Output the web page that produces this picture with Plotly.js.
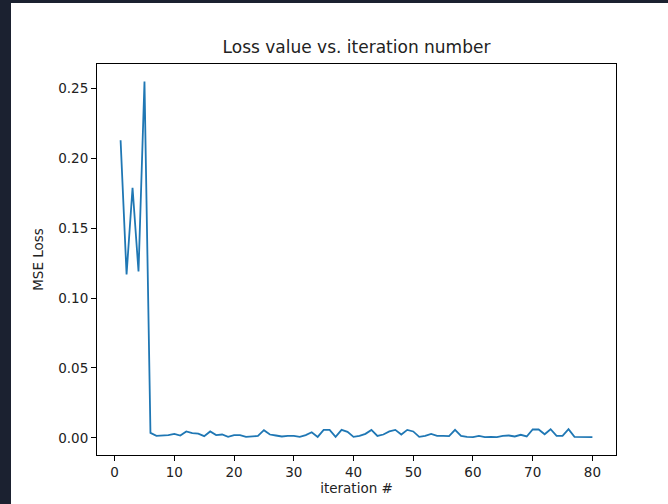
<!DOCTYPE html>
<html>
<head>
<meta charset="utf-8">
<script src="https://cdn.plot.ly/plotly-3.0.1.min.js"></script>
<style>
html,body{margin:0;padding:0;background:#1b2130;width:668px;height:504px;overflow:hidden;}
#chart{position:absolute;left:11px;top:3px;width:657px;height:501px;background:#fff;}
</style>
</head>
<body>
<div id="chart"></div>
<script>
const iterations = Array.from({length: 80}, (_, i) => i + 1);
const mseLoss = [
  0.213, 0.117, 0.179, 0.119, 0.255, 0.0036, 0.0014, 0.0017, 0.0020, 0.0029,
  0.0017, 0.0046, 0.0034, 0.0030, 0.0012, 0.0046, 0.0020, 0.0024, 0.0007, 0.0020,
  0.0020, 0.0007, 0.0010, 0.0014, 0.0055, 0.0024, 0.0017, 0.0010, 0.0014, 0.0014,
  0.0007, 0.0020, 0.0040, 0.0007, 0.0057, 0.0057, 0.0007, 0.0057, 0.0043, 0.0007,
  0.0014, 0.0029, 0.0057, 0.0014, 0.0024, 0.0046, 0.0057, 0.0024, 0.0057, 0.0046,
  0.0007, 0.0014, 0.0029, 0.0014, 0.0014, 0.0012, 0.0057, 0.0014, 0.0007, 0.0005,
  0.0014, 0.0005, 0.0007, 0.0005, 0.0014, 0.0017, 0.0010, 0.0022, 0.0010, 0.0060,
  0.0060, 0.0026, 0.0062, 0.0014, 0.0014, 0.0062, 0.0007, 0.0007, 0.0007, 0.0005
];
const chartTitle = 'Loss value vs. iteration number';
const xLabel = 'iteration #';
const yLabel = 'MSE Loss';

const font = 'DejaVu Sans, sans-serif';
const trace = {
  x: iterations, y: mseLoss, type: 'scatter', mode: 'lines',
  line: {color: '#1f77b4', width: 1.8}
};
const axisCommon = {
  showgrid: false, zeroline: false, showline: true, mirror: true,
  linecolor: '#000', linewidth: 1, ticks: 'outside', ticklen: 5,
  tickcolor: '#000', tickwidth: 1,
  tickfont: {family: font, size: 13.5, color: '#222'}
};
const layout = {
  width: 657, height: 501,
  margin: {l: 86, r: 52, t: 61, b: 49},
  paper_bgcolor: '#fff', plot_bgcolor: '#fff',
  showlegend: false,
  title: {text: chartTitle, font: {family: font, size: 17, color: '#222'},
          x: 0.5, xref: 'paper', y: 1 - 44/501, yref: 'container', yanchor: 'middle'},
  xaxis: Object.assign({}, axisCommon, {
    range: [-2.95, 83.95], tick0: 0, dtick: 10,
    title: {text: xLabel, font: {family: font, size: 13.5, color: '#222'}, standoff: 4}
  }),
  yaxis: Object.assign({}, axisCommon, {
    range: [-0.01225, 0.2675], tick0: 0, dtick: 0.05, tickformat: '.2f',
    title: {text: yLabel, font: {family: font, size: 13.5, color: '#222'}, standoff: 11}
  })
};
Plotly.newPlot('chart', [trace], layout, {staticPlot: true, displayModeBar: false});
</script>
</body>
</html>
